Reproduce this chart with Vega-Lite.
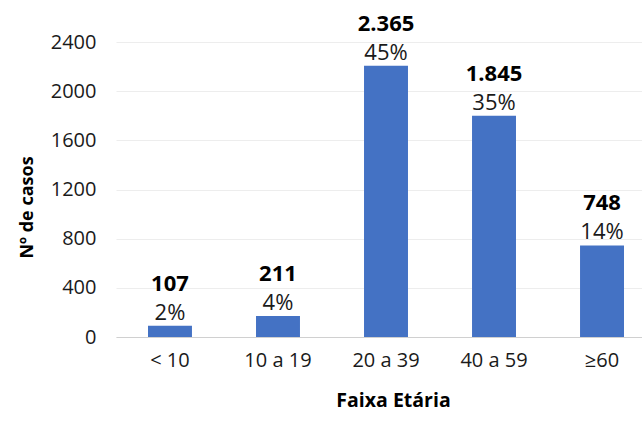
{
  "$schema": "https://vega.github.io/schema/vega-lite/v6.json",
  "width": 526,
  "height": 295,
  "autosize": {"type": "none"},
  "padding": {"left": 116, "top": 42, "right": 0, "bottom": 89},
  "background": "white",
  "config": {
    "view": {"stroke": null},
    "font": "Open Sans"
  },
  "data": {
    "values": [
      {"faixa": "< 10", "casos": 92, "rotulo": "107", "pct": "2%"},
      {"faixa": "10 a 19", "casos": 171, "rotulo": "211", "pct": "4%"},
      {"faixa": "20 a 39", "casos": 2206, "rotulo": "2.365", "pct": "45%"},
      {"faixa": "40 a 59", "casos": 1801, "rotulo": "1.845", "pct": "35%"},
      {"faixa": "≥60", "casos": 745, "rotulo": "748", "pct": "14%"}
    ]
  },
  "encoding": {
    "x": {
      "field": "faixa",
      "type": "nominal",
      "sort": null,
      "scale": {"paddingInner": 0.593, "paddingOuter": 0.2315, "align": 0.64},
      "axis": {
        "title": "Faixa Etária",
        "titleFont": "Open Sans",
        "titleFontSize": 19.5,
        "titleFontWeight": "bold",
        "titleColor": "#000000",
        "titlePadding": 21,
        "titleX": 277,
        "labelAngle": 0,
        "labelFont": "Open Sans",
        "labelFontSize": 20,
        "labelColor": "#1a1a1a",
        "labelPadding": 13,
        "ticks": false,
        "domainColor": "#d0d0d0",
        "domainWidth": 1.2,
        "grid": false
      }
    },
    "y": {
      "field": "casos",
      "type": "quantitative",
      "scale": {"domain": [0, 2400], "nice": false},
      "axis": {
        "title": "Nº de casos",
        "titleFont": "Open Sans",
        "titleFontSize": 18,
        "titleFontWeight": "bold",
        "titleColor": "#000000",
        "titlePadding": 14,
        "titleY": 165,
        "values": [0, 400, 800, 1200, 1600, 2000, 2400],
        "format": "d",
        "labelFont": "Open Sans",
        "labelFontSize": 20,
        "labelColor": "#1a1a1a",
        "labelPadding": 20,
        "ticks": false,
        "domain": false,
        "grid": true,
        "gridColor": "#ededed",
        "gridWidth": 1
      }
    }
  },
  "layer": [
    {"mark": {"type": "bar", "color": "#4472C4"}},
    {
      "mark": {"type": "text", "baseline": "alphabetic", "dy": -6, "fontSize": 22, "font": "Open Sans", "color": "#1a1a1a"},
      "encoding": {"text": {"field": "pct"}}
    },
    {
      "mark": {"type": "text", "baseline": "alphabetic", "dy": -35, "fontSize": 22, "font": "Open Sans", "fontWeight": "bold", "color": "#000000"},
      "encoding": {"text": {"field": "rotulo"}}
    }
  ]
}
